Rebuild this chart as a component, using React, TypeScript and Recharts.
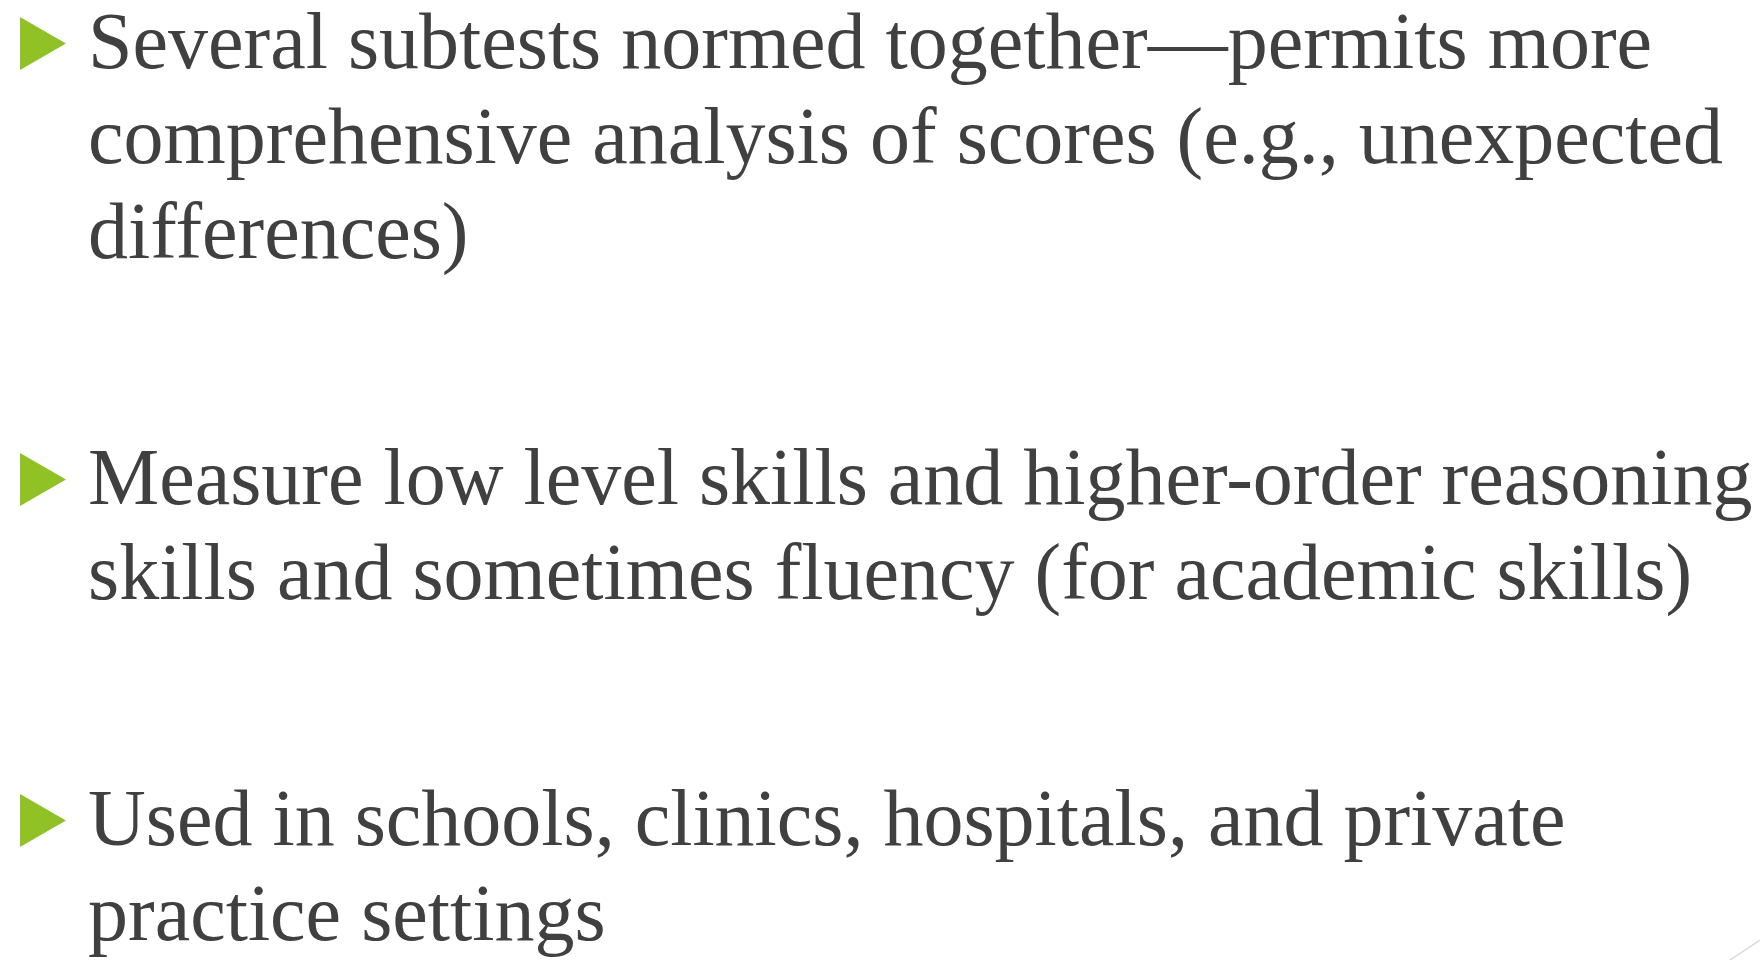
import { Scatter, ScatterChart, XAxis, YAxis } from "recharts";

const bulletLines = [
  [
    "Several subtests normed together\u2014permits more",
    "comprehensive analysis of scores (e.g., unexpected",
    "differences)",
  ],
  [
    "Measure low level skills and higher-order reasoning",
    "skills and sometimes fluency (for academic skills)",
  ],
  ["Used in schools, clinics, hospitals, and private", "practice settings"],
];

// extra space between bullets, in line heights
const paragraphGap = 1.59;

const W = 1760;
const H = 960;
const lineHeight = 95;
const firstBaseline = 68;
const fontSize = 80;

const rows: number[] = [];
let acc = 0;
bulletLines.forEach((lines) => {
  rows.push(acc);
  acc += lines.length + paragraphGap;
});

const data = bulletLines.map((lines, i) => ({ x: 0, row: rows[i], lines }));

function Bullet(props: any) {
  const { cx, cy, payload } = props;
  const lines: string[] = payload.lines;
  return (
    <g>
      <polygon
        points={`${cx},${cy - 51} ${cx + 46},${cy - 24.5} ${cx},${cy + 2}`}
        fill="#90C226"
      />
      <text
        x={cx + 68}
        y={cy}
        style={{ fontFamily: "Liberation Serif", fontSize, fill: "#404040" }}
      >
        {lines.map((l, k) => (
          <tspan key={k} x={cx + 68} dy={k === 0 ? 0 : lineHeight}>
            {l}
          </tspan>
        ))}
      </text>
    </g>
  );
}

export default function App() {
  return (
    <div
      style={{
        position: "fixed",
        left: 0,
        top: 0,
        width: W,
        height: H,
        background: "#ffffff",
        overflow: "hidden",
      }}
    >
      <ScatterChart
        width={W}
        height={H}
        margin={{ top: 0, right: 0, bottom: 0, left: 20 }}
      >
        <XAxis type="number" dataKey="x" domain={[0, 1]} hide />
        <YAxis
          type="number"
          dataKey="row"
          reversed
          domain={[-firstBaseline / lineHeight, (H - firstBaseline) / lineHeight]}
          hide
        />
        <Scatter data={data} shape={Bullet} isAnimationActive={false} />
      </ScatterChart>
      <svg
        width={W}
        height={H}
        style={{ position: "absolute", left: 0, top: 0, pointerEvents: "none" }}
      >
        <line x1={1730} y1={960} x2={1760} y2={940} stroke="#D9D9D9" strokeWidth={1.5} />
      </svg>
    </div>
  );
}
